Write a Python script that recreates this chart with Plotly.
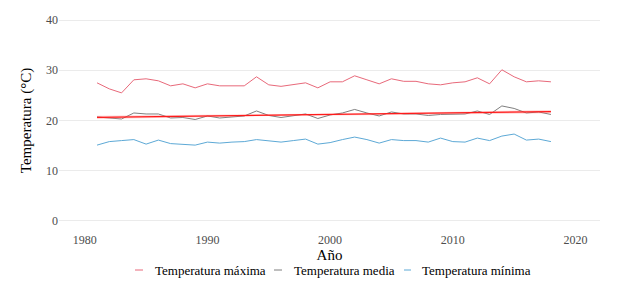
import numpy as np
import plotly.graph_objects as go

years = list(range(1981, 2019))
t_max = [27.5, 26.3, 25.5, 28.1, 28.3, 27.9, 26.9, 27.3, 26.5, 27.3,
         26.9, 26.9, 26.9, 28.7, 27.1, 26.8, 27.2, 27.5, 26.5, 27.7,
         27.7, 28.9, 28.1, 27.3, 28.3, 27.8, 27.8, 27.3, 27.1, 27.5,
         27.7, 28.5, 27.3, 30.1, 28.7, 27.7, 27.9, 27.7]
t_mean = [20.7, 20.5, 20.3, 21.5, 21.3, 21.3, 20.5, 20.6, 20.2, 20.9,
          20.5, 20.7, 20.9, 21.9, 21.0, 20.6, 20.9, 21.3, 20.4, 21.1,
          21.5, 22.2, 21.5, 20.9, 21.7, 21.3, 21.3, 21.0, 21.2, 21.2,
          21.3, 21.9, 21.2, 22.9, 22.4, 21.5, 21.7, 21.2]
t_min = [15.1, 15.8, 16.0, 16.2, 15.3, 16.1, 15.4, 15.3, 15.1, 15.7,
         15.5, 15.7, 15.8, 16.2, 15.9, 15.7, 16.0, 16.3, 15.3, 15.6,
         16.2, 16.7, 16.2, 15.5, 16.2, 16.0, 16.0, 15.7, 16.5, 15.8,
         15.7, 16.5, 16.0, 16.9, 17.3, 16.1, 16.3, 15.8]
names = ["Temperatura máxima", "Temperatura media", "Temperatura mínima"]
colors = ["#E8697A", "#7F7F7F", "#5DA9D6"]
x_ticks = [1980, 1990, 2000, 2010, 2020]
y_ticks = [0, 10, 20, 30, 40]

# linear trend of mean temperature (lm with 95% band)
x = np.array(years, dtype=float)
y = np.array(t_mean)
b, a = np.polyfit(x, y, 1)
fit = a + b * x
resid = y - fit
n = len(x)
s = np.sqrt(np.sum(resid**2) / (n - 2))
se = s * np.sqrt(1 / n + (x - x.mean())**2 / np.sum((x - x.mean())**2))
upper = fit + 2.03 * se
lower = fit - 2.03 * se

font = "Liberation Serif"
fig = go.Figure()
for vals, nm, col in zip([t_max, t_mean, t_min], names, colors):
    fig.add_trace(go.Scatter(x=years, y=vals, mode="lines", name=nm,
                             line=dict(color=col, width=1), showlegend=False))
fig.add_trace(go.Scatter(x=years + years[::-1], y=list(upper) + list(lower[::-1]),
                         fill="toself", fillcolor="rgba(255,110,110,0.3)",
                         line=dict(width=0), showlegend=False, hoverinfo="skip"))
fig.add_trace(go.Scatter(x=years, y=fit, mode="lines", showlegend=False,
                         line=dict(color="#FF1A1A", width=1.3)))

# manual legend (ggplot-style short keys), in paper coordinates
plot_l, plot_w, plot_b, plot_h = 59, 541, 231, 221
leg_y = (plot_b - 270) / plot_h
key_px = [(135, 143, 153), (274, 282, 292), (404, 411, 420)]
for (k0, k1, tx), nm, col in zip(key_px, names, colors):
    fig.add_shape(type="line", xref="paper", yref="paper",
                  x0=(k0 - plot_l) / plot_w, x1=(k1 - plot_l) / plot_w,
                  y0=leg_y, y1=leg_y, line=dict(color=col, width=1))
    fig.add_annotation(xref="paper", yref="paper", x=(tx - plot_l) / plot_w, y=leg_y,
                       xanchor="left", yanchor="middle", showarrow=False, text=nm,
                       font=dict(family=font, size=13, color="black"))

fig.update_layout(
    width=631, height=302,
    margin=dict(l=51, r=39, t=2, b=79),
    paper_bgcolor="white", plot_bgcolor="white",
    font=dict(family=font, size=12, color="black"),
    showlegend=False,
)
fig.update_xaxes(range=[1977.9, 2022.0], tickvals=x_ticks, showgrid=False,
                 zeroline=False, showline=False, ticks="", automargin=False,
                 tickfont=dict(family=font, size=12, color="#4D4D4D"),
                 title=dict(text="Año", font=dict(family=font, size=15, color="black"), standoff=2))
fig.update_yaxes(range=[-2, 42], tickvals=y_ticks, showgrid=True, gridcolor="#EBEBEB",
                 gridwidth=1, zeroline=False, showline=False, ticks="", automargin=False,
                 tickfont=dict(family=font, size=12, color="#4D4D4D"),
                 title=dict(text="Temperatura (°C)", font=dict(family=font, size=15, color="black"), standoff=10))
fig.write_html("out.html")
